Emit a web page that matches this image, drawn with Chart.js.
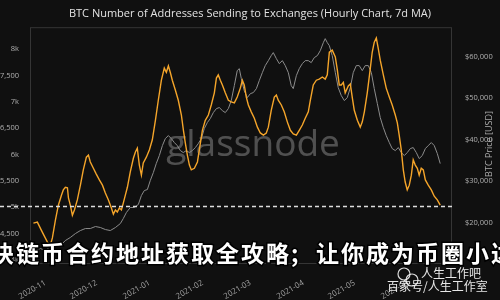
<!DOCTYPE html>
<html lang="en">
<head>
  <meta charset="UTF-8">
  <title>BTC Addresses Sending to Exchanges</title>
  <script src="https://cdn.jsdelivr.net/npm/chart.js"></script>
  <style>
    html, body {
      margin: 0;
      padding: 0;
      width: 100%;
      height: 100%;
      background: #101010;
    }
    .chart-container {
      position: relative;
      width: 500px;
      height: 300px;
    }
  </style>
</head>
<body>
  <div class="chart-container">
    <canvas id="chart"></canvas>
  </div>

  <script>
    // days counted from 2020-11-01
    const monthDays = [0, 30, 61, 92, 120, 151, 181, 212];
    const monthLabels = ['2020-11', '2020-12', '2021-01', '2021-02', '2021-03', '2021-04', '2021-05', '2021-06'];

    const addrTicks = [4000, 4500, 5000, 5500, 6000, 6500, 7000, 7500, 8000];
    const priceTicks = [20000, 30000, 40000, 50000, 60000];

    // Number of addresses sending to exchanges (7d MA), left axis
    const addrDays = [
      -7, -4.7, -1.8, 1.2, 2.9, 4.1, 5.9, 7.6, 9.4, 10.5,
      11.7, 12.9, 13.5, 14.6, 15.8, 17, 18.7, 20.5, 22.2, 24,
      25.2, 26.3, 28.1, 29.8, 31.6, 33.4, 35.1, 36.9, 38.6, 39.8,
      41, 42.1, 43.3, 44.5, 45.6, 46.8, 48, 49.7, 51.5, 52.7,
      53.8, 55, 56.2, 57.3, 59.1, 60.9, 62.6, 64.4, 66.1, 67.9,
      69.6, 70.8, 72, 73.1, 74.3, 76.1, 77.8, 79.6, 80.8, 81.9,
      83.1, 84.3, 85.4, 87.2, 89, 90.1, 91.9, 93.6, 95.4, 97.1,
      98.9, 100.1, 101.2, 102.4, 103.6, 105.3, 107.1, 108.8, 110.6, 112.3,
      114.1, 115.3, 116.4, 117.6, 118.8, 120.5, 122.3, 124.1, 125.8, 127.6,
      129.3, 130.5, 132.2, 134, 135.2, 136.3, 138.1, 139.8, 141.6, 143.4,
      145.1, 146.9, 148.6, 150.4, 152.1, 153.9, 155.1, 156.8, 158.6, 160.3,
      162.1, 163.8, 165, 166.2, 167.9, 169.7, 170.9, 172, 173.2, 174.4,
      175.5, 177.3, 178.5, 179.6, 180.8, 182.6, 184.3, 185.5, 186.7, 188.4,
      190.2, 191.3, 192.5, 193.7, 194.8, 196, 197.8, 199.5, 201.3, 203,
      204.8, 206, 207.1, 208.3, 209.5, 210.6, 211.8, 213, 214.2, 215.3,
      216.5, 217.7, 218.8, 220, 221.2, 222.4, 224.1, 225.9, 227.6, 229.4,
      231.1
    ];
    const addrValues = [
      4700, 4720, 4530, 4340, 4280, 4420, 4760, 5040, 5230, 5330,
      5380, 5370, 5180, 5040, 4850, 4950, 5140, 5420, 5710, 5950,
      5990, 5860, 5740, 5630, 5520, 5420, 5270, 5140, 4990, 4870,
      4950, 4910, 4990, 4950, 5080, 5230, 5380, 5670, 5930, 6050,
      6120, 5800, 5610, 5840, 5950, 6090, 6280, 6650, 7030, 7410,
      7640, 7560, 7680, 7560, 7410, 7220, 7030, 6750, 6460, 6220,
      5990, 5800, 5710, 5740, 5860, 6090, 6460, 6650, 6750, 6940,
      7170, 7450, 7510, 7410, 7320, 7170, 7030, 7000, 6980, 7090,
      7260, 7410, 7320, 7090, 6940, 6810, 6690, 6520, 6410, 6370,
      6410, 6520, 6840, 7090, 7130, 7030, 6940, 6810, 6620, 6460,
      6390, 6370, 6460, 6560, 6690, 6810, 7030, 7320, 7410, 7430,
      7470, 7430, 7510, 7940, 7980, 7850, 7600, 7320, 7320, 7370,
      7170, 7300, 7340, 7090, 6840, 6650, 6520, 6620, 6810, 7170,
      7640, 7940, 8130, 8210, 8020, 7790, 7510, 7260, 7090, 6940,
      6750, 6600, 6370, 6090, 5710, 5480, 5330, 5420, 5610, 5900,
      5800, 5740, 5610, 5740, 5710, 5520, 5420, 5330, 5210, 5140,
      5040
    ];

    // BTC price (USD), right axis
    const priceDays = [
      -8.8, -5.9, -2.9, 0, 2.9, 5.9, 8.8, 11.7, 14.6, 17.6,
      20.5, 23.4, 26.3, 29.3, 32.2, 35.1, 38, 41, 43.9, 45.6,
      47.4, 49.7, 52.1, 54.4, 56.2, 57.9, 59.7, 61.4, 63.2, 64.9,
      66.7, 68.5, 70.2, 72, 73.7, 75.5, 77.2, 79, 80.7, 82.5,
      84.3, 86, 87.8, 89.5, 91.3, 93, 94.8, 96.5, 98.3, 100.1,
      101.8, 103.6, 105.3, 107.1, 108.8, 110.6, 112.3, 113.5, 114.7, 116.4,
      118.2, 120, 121.7, 123.5, 125.2, 127, 128.7, 130.5, 132.2, 133.4,
      135.2, 136.9, 138.7, 140.4, 142.2, 143.9, 145.1, 146.9, 148.6, 150.4,
      152.1, 153.9, 155.6, 157.4, 159.2, 160.9, 162.7, 163.8, 165, 166.2,
      167.9, 169.7, 171.4, 173.2, 175, 176.7, 178.5, 180.2, 182, 183.7,
      185.5, 187.2, 189, 190.8, 192.5, 194.3, 196, 197.8, 199.5, 201.3,
      203, 204.8, 206.6, 208.3, 210.1, 211.8, 213.6, 215.3, 217.1, 218.8,
      220.6, 222.4, 224.1, 225.9, 227.6, 229.4, 231.1
    ];
    const priceValues = [
      12770, 13250, 13730, 13250, 14200, 14700, 14460, 15660, 16390, 17350,
      18070, 18550, 18550, 19040, 18800, 18310, 18070, 18800, 19760, 20960,
      22410, 23620, 23620, 24340, 26510, 27710, 27950, 30120, 32050, 34220,
      36150, 38560, 40240, 40970, 40240, 39280, 38560, 37350, 36870, 37350,
      36870, 37350, 38080, 39040, 40240, 42650, 44100, 45060, 46510, 47470,
      47720, 46990, 46510, 47470, 49400, 53020, 56630, 57110, 54700, 51810,
      50120, 51090, 51330, 52290, 54220, 56150, 57840, 59040, 60250, 60970,
      59520, 58320, 59040, 57840, 56150, 53020, 52290, 55430, 57110, 58320,
      59040, 59040, 58560, 59770, 60250, 61450, 63380, 64340, 63380, 62660,
      60250, 56150, 52540, 50610, 49400, 50120, 52540, 56150, 57840, 57840,
      56630, 57840, 57840, 56150, 52290, 48680, 45310, 42900, 40970, 39280,
      37830, 37350, 38080, 36870, 36150, 36870, 37830, 38080, 36870, 35420,
      36150, 37830, 38560, 39280, 38560, 36630, 34220
    ];

    const overlayText = '区块链币合约地址获取全攻略;让你成为币圈小达人';

    // frame, watermark, axis title and the pasted-on texts
    const decorations = {
      id: 'decorations',
      beforeDatasetsDraw(chart) {
        const { ctx, chartArea } = chart;
        ctx.save();
        ctx.strokeStyle = '#353535';
        ctx.lineWidth = 1;
        ctx.strokeRect(chartArea.left + 0.5, chartArea.top + 0.5,
          chartArea.right - chartArea.left - 1, chartArea.bottom - chartArea.top - 1);
        ctx.fillStyle = 'rgba(255,255,255,0.27)';
        ctx.font = '37px "Open Sans"';
        ctx.textAlign = 'center';
        ctx.textBaseline = 'middle';
        ctx.fillText('glassnode', 253, 145);
        ctx.restore();
      },
      afterDraw(chart) {
        const { ctx, chartArea } = chart;
        ctx.save();

        // right axis title, reading bottom to top
        ctx.translate(489, 144);
        ctx.rotate(-Math.PI / 2);
        ctx.fillStyle = '#aaaaaa';
        ctx.font = '9px "Open Sans"';
        ctx.textAlign = 'center';
        ctx.textBaseline = 'middle';
        ctx.fillText('BTC Price [USD]', 0, 0);
        ctx.setTransform(1, 0, 0, 1, 0, 0);

        // dashed white line at 5k
        const y5k = Math.round(chart.scales.yL.getPixelForValue(5000)) - 0.5;
        ctx.strokeStyle = '#dddddd';
        ctx.lineWidth = 1.5;
        ctx.setLineDash([4, 3]);
        ctx.beginPath();
        ctx.moveTo(0, y5k);
        ctx.lineTo(chartArea.right, y5k);
        ctx.stroke();
        ctx.setLineDash([]);

        // big headline pasted over the chart
        ctx.font = 'bold 23px "Noto Sans CJK SC"';
        ctx.textAlign = 'left';
        ctx.textBaseline = 'middle';
        ctx.lineWidth = 3;
        ctx.strokeStyle = '#000000';
        ctx.fillStyle = '#ffffff';
        Array.from(overlayText).forEach((ch, i) => {
          const x = -34 + i * 25;
          ctx.strokeText(ch, x, 253);
          ctx.fillText(ch, x, 253);
        });

        // account watermark, bottom right
        ctx.strokeStyle = 'rgba(255,255,255,0.85)';
        ctx.lineWidth = 1.2;
        ctx.beginPath();
        ctx.arc(404, 274, 6, 0, Math.PI * 2);
        ctx.stroke();
        ctx.beginPath();
        ctx.arc(412, 280, 6, 0, Math.PI * 2);
        ctx.stroke();
        ctx.fillStyle = 'rgba(255,255,255,0.9)';
        ctx.font = '12px "Noto Sans CJK SC"';
        ctx.fillText('人生工作吧', 421, 273);
        ctx.fillText('百家号/人生工作室', 387, 286);
        ctx.restore();
      }
    };

    const ctx = document.getElementById('chart').getContext('2d');
    new Chart(ctx, {
      type: 'line',
      data: {
        datasets: [{
          label: 'Addresses Sending to Exchanges',
          data: addrDays.map((d, i) => ({ x: d, y: addrValues[i] })),
          yAxisID: 'yL',
          borderColor: '#f5a52a',
          borderWidth: 1.4,
          pointRadius: 0,
          tension: 0
        }, {
          label: 'BTC Price [USD]',
          data: priceDays.map((d, i) => ({ x: d, y: priceValues[i] })),
          yAxisID: 'yR',
          borderColor: '#8c8c8c',
          borderWidth: 1,
          pointRadius: 0,
          tension: 0
        }]
      },
      options: {
        responsive: true,
        maintainAspectRatio: false,
        animation: false,
        layout: { padding: 0 },
        plugins: {
          legend: { display: false },
          tooltip: { enabled: false },
          title: {
            display: true,
            text: 'BTC Number of Addresses Sending to Exchanges (Hourly Chart, 7d MA)',
            color: '#e2e2e2',
            font: { family: 'Open Sans', size: 11, weight: 'normal' },
            padding: { top: 7, bottom: 7 }
          }
        },
        scales: {
          x: {
            type: 'linear',
            min: -9,
            max: 238,
            afterBuildTicks: (axis) => { axis.ticks = monthDays.map(v => ({ value: v })); },
            afterFit: (axis) => { axis.height = 36; },
            grid: { display: false },
            border: { display: false },
            ticks: {
              color: '#a0a0a0',
              font: { family: 'Open Sans', size: 8 },
              minRotation: 30,
              maxRotation: 30,
              padding: 6,
              callback: (v) => monthLabels[monthDays.indexOf(v)]
            }
          },
          yL: {
            position: 'left',
            min: 3925,
            max: 8415,
            afterBuildTicks: (axis) => { axis.ticks = addrTicks.map(v => ({ value: v })); },
            afterFit: (axis) => { axis.width = 30; },
            grid: { display: false },
            border: { display: false },
            ticks: {
              color: '#b0b0b0',
              font: { family: 'Open Sans', size: 7.5 },
              padding: 3,
              callback: (v) => v % 1000 === 0 ? (v / 1000) + 'k' : v.toLocaleString('en-US')
            }
          },
          yR: {
            position: 'right',
            min: 10000,
            max: 67100,
            afterBuildTicks: (axis) => { axis.ticks = priceTicks.map(v => ({ value: v })); },
            afterFit: (axis) => { axis.width = 48; },
            grid: { display: false },
            border: { display: false },
            ticks: {
              color: '#b0b0b0',
              font: { family: 'Open Sans', size: 7.5 },
              padding: 5,
              callback: (v) => '$' + v.toLocaleString('en-US')
            }
          }
        }
      },
      plugins: [decorations]
    });
  </script>
</body>
</html>
